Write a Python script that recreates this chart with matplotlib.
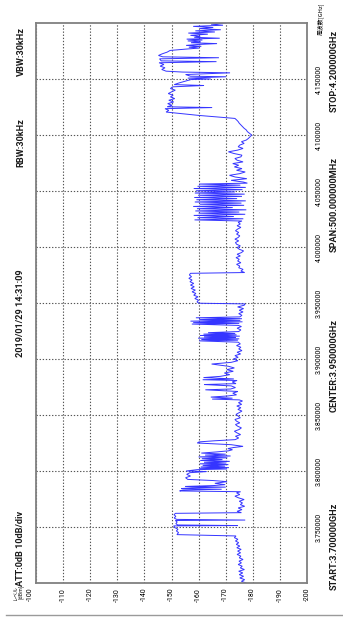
import matplotlib
matplotlib.use("Agg")
import matplotlib.pyplot as plt
import matplotlib.transforms as mtransforms

# ---------------- data ----------------
freq_ghz = [
    3.700, 3.7015, 3.703, 3.7045, 3.706, 3.7075, 3.709, 3.7105, 3.712, 3.7135, 3.715, 3.7165, 3.718, 3.7195, 3.721, 3.7225, 3.724, 3.7255, 3.727, 3.7285, 3.730, 3.7315, 3.733, 3.7345, 3.736, 3.7375, 3.739, 3.7405, 3.742,
    3.7432, 3.745, 3.7465, 3.748, 3.7495, 3.751, 3.7513, 3.7518, 3.753, 3.7545, 3.7558, 3.7562, 3.7568, 3.758, 3.7595, 3.761, 3.7622,
    3.7628, 3.764, 3.7655, 3.767, 3.7685, 3.770, 3.7715, 3.773, 3.7745, 3.776, 3.7775, 3.779, 3.7805, 3.7815,
    3.7822, 3.783, 3.7837, 3.7843, 3.785, 3.7856, 3.7862, 3.787, 3.7878,
    3.789, 3.7905, 3.7915, 3.7925, 3.794, 3.7955, 3.797, 3.7985, 3.7995, 3.800,
    3.8012, 3.8018, 3.8024, 3.803, 3.8036, 3.8043, 3.805, 3.8057, 3.8064, 3.8071, 3.8078, 3.8086, 3.8094, 3.8102, 3.811, 3.8118, 3.8126, 3.8134, 3.8142, 3.815, 3.816, 3.817, 3.818, 3.819, 3.820, 3.821, 3.822, 3.8235, 3.825, 3.826, 3.827, 3.828,
    3.8295, 3.831, 3.8325, 3.834, 3.8355, 3.837, 3.8385, 3.840, 3.8415, 3.843, 3.8445, 3.846, 3.8475, 3.849, 3.8505, 3.852, 3.8535, 3.855, 3.8565, 3.858, 3.8595, 3.861, 3.8625, 3.8635,
    3.8642, 3.865, 3.866, 3.867, 3.868, 3.8695, 3.871, 3.8725, 3.8732, 3.8745, 3.876, 3.8772, 3.878, 3.8795, 3.8808, 3.8815, 3.8822, 3.8834, 3.8845, 3.886, 3.8875, 3.889, 3.8905, 3.892, 3.8935, 3.8955, 3.897, 3.8985,
    3.900, 3.9015, 3.903, 3.9045, 3.906, 3.9075, 3.909, 3.9105, 3.912, 3.9135, 3.915,
    3.9162, 3.9168, 3.9174, 3.918, 3.9186, 3.9192, 3.9198, 3.9204, 3.921, 3.9216, 3.9222, 3.9228, 3.9235, 3.9245,
    3.926, 3.9275, 3.929, 3.930,
    3.9312, 3.9318, 3.9325, 3.9332, 3.9338, 3.9345, 3.9352, 3.936, 3.9368, 3.9376,
    3.939, 3.9405, 3.942, 3.9435, 3.945, 3.9465, 3.948, 3.9492,
    3.9498, 3.951, 3.9525, 3.954, 3.9555, 3.957, 3.9585, 3.960, 3.9615, 3.963, 3.9645, 3.966, 3.9675, 3.969, 3.9705, 3.972, 3.9735, 3.975, 3.9765,
    3.9772, 3.9785, 3.980, 3.9815, 3.983, 3.9845, 3.986, 3.9875, 3.989, 3.9905, 3.992, 3.9935, 3.995, 3.9965, 3.998, 3.9995, 4.001, 4.0025, 4.004, 4.0055, 4.007, 4.0085, 4.010, 4.0115, 4.013, 4.0145, 4.016, 4.0175, 4.019, 4.0205, 4.022, 4.0232,
    4.0242, 4.0252, 4.0262, 4.0272, 4.0282, 4.0292, 4.0302, 4.0312, 4.0322, 4.0332, 4.0342, 4.0352, 4.0362, 4.0372, 4.0382, 4.0392, 4.0402, 4.0412, 4.0422, 4.0432, 4.0442, 4.0452, 4.0462, 4.0472, 4.0482, 4.0492, 4.0502, 4.0512, 4.0522, 4.0532, 4.0542, 4.0552, 4.0562, 4.057,
    4.058, 4.0595, 4.061, 4.0625, 4.064, 4.0655, 4.067, 4.0685, 4.070, 4.0715, 4.073, 4.0745, 4.076, 4.0775, 4.079, 4.0805, 4.082, 4.0835, 4.085, 4.0865, 4.088, 4.0895, 4.091, 4.0925, 4.094, 4.0955, 4.097, 4.0985, 4.100,
    4.1015, 4.103, 4.1045, 4.106, 4.1075, 4.109, 4.1105, 4.112, 4.1135, 4.1148, 4.1175, 4.1205,
    4.122, 4.1235, 4.1245, 4.1252, 4.1265, 4.128, 4.1295, 4.131, 4.1325, 4.134, 4.1355, 4.137, 4.1385, 4.140, 4.1415, 4.143, 4.1442, 4.145, 4.1465,
    4.148, 4.1495, 4.150, 4.1508, 4.152, 4.1525, 4.154, 4.1555, 4.1562, 4.157,
    4.1585, 4.160, 4.1615, 4.163, 4.1645, 4.1655, 4.1662, 4.168, 4.169, 4.1698, 4.171, 4.1725, 4.174, 4.1755,
    4.1768, 4.1776, 4.1784, 4.1792, 4.180, 4.1808, 4.1816, 4.1824, 4.1832, 4.184, 4.1848, 4.1856, 4.1864, 4.1872, 4.188,
    4.189, 4.190, 4.191, 4.192, 4.193, 4.194, 4.195, 4.196, 4.197, 4.198, 4.199, 4.200,
]
level_dbm = [
    -177.5, -175.8, -177.0, -175.2, -176.6, -175.0, -176.3, -174.8, -176.9, -175.4, -176.1, -174.6, -175.8, -174.9, -176.4, -175.0, -175.6, -174.2, -175.5, -174.4, -175.7, -174.1, -175.2, -173.9, -174.8, -173.6, -174.5, -173.2, -173.8,
    -152.0, -152.6, -151.8, -152.4, -151.2, -150.8, -174.5, -152.3, -151.6, -152.1, -151.4, -177.2, -151.9, -151.0, -151.6, -150.9, -151.5,
    -175.8, -174.2, -176.0, -174.6, -177.0, -175.4, -176.2, -175.0, -176.8, -174.8, -173.4, -175.2, -174.0, -175.5,
    -153.0, -154.2, -168.5, -153.6, -157.5, -170.0, -155.0, -165.5, -169.8,
    -166.0, -170.5, -165.2, -156.0, -155.2, -157.0, -155.6, -156.8, -163.0, -155.4,
    -159.5, -170.5, -160.2, -171.2, -160.8, -169.8, -161.5, -171.0, -160.4, -170.2, -162.0, -171.5, -160.6, -168.8, -161.2, -170.6, -160.0, -171.8, -162.4, -170.0, -161.0, -166.5, -171.0, -172.5, -170.8, -173.0, -176.4, -172.0, -159.5, -160.2, -166.0, -173.5,
    -174.8, -173.6, -175.5, -174.2, -173.2, -174.9, -175.8, -174.4, -173.6, -175.2, -174.0, -173.4, -175.4, -174.6, -173.8, -174.9, -176.0, -174.5, -175.6, -174.1, -175.9, -174.7, -176.2, -175.0,
    -165.0, -172.5, -164.5, -170.8, -174.0, -172.6, -174.5, -162.5, -171.8, -173.6, -172.0, -162.0, -173.8, -172.4, -174.2, -161.5, -173.0, -161.8, -168.0, -171.5, -169.5, -172.8, -170.4, -173.2, -171.0, -164.8, -172.0, -174.5,
    -172.8, -174.6, -173.4, -175.5, -174.2, -176.0, -174.8, -175.6, -174.0, -175.4, -174.6,
    -160.2, -174.5, -161.0, -175.0, -159.8, -173.8, -162.0, -175.2, -160.5, -174.0, -161.8, -173.5, -163.5, -174.8,
    -175.6, -174.2, -175.8, -174.6,
    -157.5, -175.0, -158.0, -176.2, -157.0, -175.4, -160.2, -176.0, -159.0, -175.2,
    -176.0, -174.8, -176.4, -175.0, -176.6, -174.4, -176.8, -177.2,
    -160.2, -159.4, -160.0, -158.6, -159.8, -158.2, -159.0, -157.6, -158.8, -157.2, -158.4, -157.0, -158.2, -156.8, -157.6, -156.4, -157.4, -156.6, -157.0,
    -177.0, -175.6, -176.4, -174.8, -175.2, -174.0, -175.6, -174.4, -175.0, -173.8, -175.4, -174.2, -175.8, -176.6, -175.0, -174.2, -175.4, -174.0, -173.6, -174.8, -173.4, -174.6, -175.2, -174.0, -174.8, -173.6, -174.4, -175.6, -174.2, -175.4, -174.6, -176.0,
    -158.5, -176.5, -159.6, -173.0, -158.2, -177.2, -160.0, -175.0, -158.8, -177.6, -159.4, -172.6, -158.0, -176.8, -160.4, -175.8, -158.6, -177.4, -159.2, -174.2, -158.4, -176.0, -159.8, -177.0, -158.6, -173.4, -159.0, -176.2, -158.2, -177.4, -159.6, -175.4, -160.2, -178.0,
    -176.5, -172.0, -177.8, -173.5, -171.4, -175.2, -177.2, -174.0, -176.0, -173.2, -174.8, -172.6, -176.4, -174.2, -173.4, -175.6, -176.0, -173.0, -171.0, -174.4, -176.4, -174.6, -175.2, -176.8, -175.8, -177.6, -178.4, -179.0, -179.6,
    -178.8, -178.0, -177.6, -176.8, -176.2, -175.6, -175.0, -174.6, -174.0, -173.4, -160.0, -148.0,
    -149.0, -147.6, -165.0, -148.4, -150.2, -148.6, -150.8, -149.0, -151.2, -149.6, -150.6, -148.8, -150.0, -151.4, -149.6, -150.4, -162.0, -151.0, -152.8,
    -155.0, -157.2, -164.5, -156.0, -170.2, -157.0, -155.2, -171.6, -154.0, -148.0,
    -146.4, -147.6, -145.8, -147.2, -145.4, -166.6, -146.2, -145.6, -167.5, -146.8, -145.2, -146.6, -148.4, -149.5,
    -155.8, -160.2, -156.4, -161.0, -155.4, -159.6, -166.8, -157.2, -160.8, -156.0, -161.4, -155.6, -167.8, -158.4, -160.6,
    -157.0, -163.4, -156.2, -166.0, -158.8, -168.2, -160.4, -165.4, -158.0, -169.0, -164.6, -170.2,
]

level_ticks = [-100, -110, -120, -130, -140, -150, -160, -170, -180, -190, -200]
level_labels = ["-100", "-110", "-120", "-130", "-140", "-150", "-160", "-170", "-180", "-190", "-200"]
freq_ticks = [3.75, 3.80, 3.85, 3.90, 3.95, 4.00, 4.05, 4.10, 4.15]
freq_labels = ["3.750000", "3.800000", "3.850000", "3.900000", "3.950000",
               "4.000000", "4.050000", "4.100000", "4.150000"]

# ---------------- figure ----------------
W, H = 343, 627
fig = plt.figure(figsize=(W / 100, H / 100), dpi=100)
fig.patch.set_facecolor("white")
ax = fig.add_axes([36 / W, (H - 583) / H, 271 / W, 560 / H])

FAM = ["Roboto", "DejaVu Sans"]
FAMJ = ["Noto Sans CJK JP", "DejaVu Sans"]

ax.plot(level_dbm, freq_ghz, color="#3535ff", lw=0.7, solid_joinstyle="miter")

ax.set_xlim(-100, -200)
ax.set_ylim(3.70, 4.20)

ax.set_xticks(level_ticks)
ax.set_xticklabels(level_labels, rotation=90, fontsize=5.0, family=FAM)
ax.yaxis.tick_right()
ax.set_yticks(freq_ticks)
ax.set_yticklabels(freq_labels, rotation=90, fontsize=5.0, family=FAM, va="center")
ax.tick_params(axis="x", length=0, pad=3.5)
ax.tick_params(axis="y", length=0, pad=6.5)

# shift the "-100" label slightly left as in the reference
lab0 = ax.get_xticklabels()[0]
lab0.set_transform(lab0.get_transform() + mtransforms.ScaledTranslation(-6 / 100, 0, fig.dpi_scale_trans))

ax.grid(True, color="#555555", lw=0.8, linestyle=(0, (1.2, 1.6)))
for s in ax.spines.values():
    s.set_color("#808080")
    s.set_linewidth(1.3)

INFO = dict(rotation=90, ha="center", fontsize=6.6, family=FAM, weight="bold", color="#1a1a1a")

# left column texts
TX = 21 / W
fig.text(TX, (H - 586) / H, "ATT:0dB 10dB/div", va="bottom", **INFO)
fig.text(TX, (H - 313) / H, "2019/01/29 14:31:09", va="center", **INFO)
fig.text(TX, (H - 143) / H, "RBW:30kHz", va="center", **INFO)
fig.text(TX, (H - 27) / H, "VBW:30kHz", va="top", **INFO)
fig.text(18 / W, (H - 592) / H, "レベル\n[dBm]", rotation=90, ha="center", va="center",
         fontsize=3.6, family=FAMJ, linespacing=1.0)

# right column texts
RX = 334 / W
fig.text(RX, (H - 590) / H, "START:3.700000GHz", va="bottom", **INFO)
fig.text(RX, (H - 365) / H, "CENTER:3.950000GHz", va="center", **INFO)
fig.text(RX, (H - 205) / H, "SPAN:500.000000MHz", va="center", **INFO)
fig.text(RX, (H - 30) / H, "STOP:4.200000GHz", va="top", **INFO)
fig.text(320 / W, (H - 2) / H, "周波数[GHz]", rotation=90, ha="center", va="top",
         fontsize=4.2, family=FAMJ)

# bottom separator line
fig.add_artist(plt.Line2D([6 / W, 1.0], [(H - 615) / H, (H - 615) / H],
                          transform=fig.transFigure, color="#9a9a9a", lw=1.0))

fig.savefig("out.png", dpi=100, facecolor="white")
